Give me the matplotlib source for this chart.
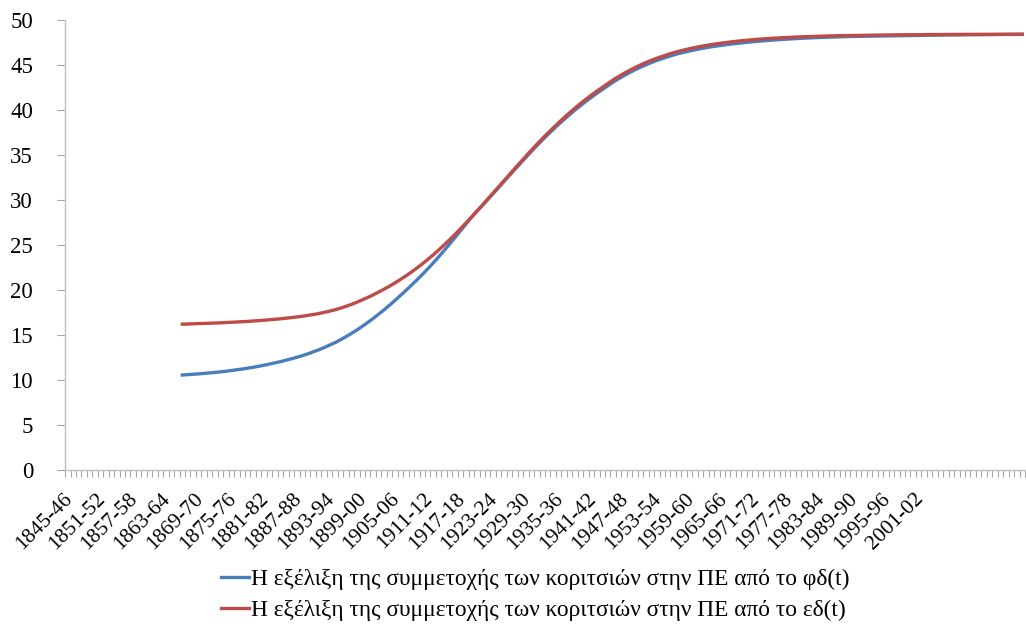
import numpy as np
import matplotlib
matplotlib.use("Agg")
import matplotlib.pyplot as plt
from matplotlib.transforms import ScaledTranslation

plt.rcParams['font.family'] = ['Liberation Serif', 'DejaVu Serif']

# school years 1845-46 ... 2020-21 (one category per year)
first_year = 1845
n_years = 176
last_labelled = 2001   # Excel shows labels every 6 years up to 2001-02
first_point = 21       # series start at 1866-67

# participation of girls (%)
phi_d = [10.55, 10.59, 10.63, 10.68, 10.73, 10.78, 10.84, 10.90, 10.97, 11.05,
         11.13, 11.22, 11.31, 11.41, 11.52, 11.64, 11.77, 11.90, 12.04, 12.19,
         12.35, 12.52, 12.70, 12.90, 13.12, 13.35, 13.60, 13.87, 14.15, 14.47,
         14.81, 15.17, 15.55, 15.96, 16.39, 16.84, 17.31, 17.80, 18.31, 18.84,
         19.39, 19.95, 20.52, 21.11, 21.72, 22.35, 23.00, 23.68, 24.38, 25.10,
         25.83, 26.57, 27.31, 28.05, 28.74, 29.38, 30.04, 30.71, 31.39, 32.06,
         32.74, 33.41, 34.08, 34.74, 35.39, 36.03, 36.65, 37.25, 37.83, 38.40,
         38.95, 39.48, 39.99, 40.48, 40.96, 41.41, 41.85, 42.27, 42.68, 43.10,
         43.47, 43.82, 44.15, 44.46, 44.75, 45.02, 45.27, 45.50, 45.71, 45.91,
         46.10, 46.27, 46.42, 46.56, 46.69, 46.81, 46.92, 47.02, 47.11, 47.20,
         47.28, 47.35, 47.42, 47.49, 47.55, 47.61, 47.66, 47.71, 47.75, 47.80,
         47.84, 47.88, 47.91, 47.95, 47.98, 48.01, 48.03, 48.06, 48.08, 48.10,
         48.12, 48.14, 48.15, 48.17, 48.18, 48.19, 48.21, 48.22, 48.23, 48.24,
         48.25, 48.26, 48.27, 48.28, 48.28, 48.29, 48.30, 48.31, 48.31, 48.32,
         48.33, 48.33, 48.34, 48.35, 48.35, 48.36, 48.36, 48.37, 48.37, 48.38,
         48.38, 48.39, 48.39, 48.40, 48.40]

epsilon_d = [16.20, 16.22, 16.24, 16.26, 16.28, 16.30, 16.32, 16.35, 16.38, 16.41,
             16.44, 16.47, 16.51, 16.55, 16.59, 16.64, 16.69, 16.74, 16.80, 16.86,
             16.93, 17.00, 17.08, 17.17, 17.27, 17.38, 17.51, 17.65, 17.80, 17.98,
             18.18, 18.40, 18.64, 18.90, 19.17, 19.46, 19.77, 20.09, 20.43, 20.79,
             21.17, 21.57, 21.99, 22.43, 22.90, 23.39, 23.90, 24.44, 25.00, 25.58,
             26.18, 26.80, 27.44, 28.09, 28.75, 29.42, 30.10, 30.78, 31.47, 32.15,
             32.84, 33.52, 34.20, 34.87, 35.53, 36.18, 36.81, 37.42, 38.01, 38.59,
             39.15, 39.69, 40.21, 40.71, 41.19, 41.65, 42.09, 42.51, 42.93, 43.35,
             43.72, 44.07, 44.40, 44.71, 45.00, 45.27, 45.52, 45.75, 45.96, 46.16,
             46.35, 46.52, 46.67, 46.81, 46.94, 47.06, 47.17, 47.27, 47.36, 47.44,
             47.52, 47.59, 47.66, 47.72, 47.78, 47.83, 47.88, 47.92, 47.96, 48.00,
             48.03, 48.06, 48.09, 48.12, 48.14, 48.16, 48.18, 48.20, 48.22, 48.23,
             48.25, 48.26, 48.27, 48.28, 48.29, 48.30, 48.31, 48.32, 48.33, 48.34,
             48.34, 48.35, 48.35, 48.36, 48.36, 48.37, 48.37, 48.38, 48.38, 48.38,
             48.39, 48.39, 48.39, 48.40, 48.40, 48.40, 48.40, 48.41, 48.41, 48.41,
             48.41, 48.41, 48.42, 48.42, 48.42]

label_phi = "Η εξέλιξη της συμμετοχής των κοριτσιών στην ΠΕ από το φδ(t)"
label_eps = "Η εξέλιξη της συμμετοχής των κοριτσιών στην ΠΕ από το εδ(t)"

years = [first_year + i for i in range(n_years)]
periods = ["%d-%02d" % (y, (y + 1) % 100) for y in years]

fig = plt.figure(figsize=(10.26, 6.24), dpi=100)
ax = fig.add_axes([0.0634, 0.2468, 0.9356, 0.7212])

x = np.arange(first_point, first_point + len(phi_d))
ax.plot(x, phi_d, color='#4A7EBB', lw=2.4, label=label_phi)
ax.plot(x, epsilon_d, color='#BE4B48', lw=2.4, label=label_eps)

ax.set_xlim(-0.5, n_years - 0.5)
ax.set_ylim(0, 50)
ax.set_yticks(range(0, 51, 5))

# category boundaries carry the tick marks, labels sit at centres
ax.set_xticks(np.arange(n_years + 1) - 0.5)
ax.set_xticklabels([])
lab_idx = [i for i in range(0, n_years, 6) if years[i] <= last_labelled]
ax.set_xticks(lab_idx, minor=True)
ax.tick_params(axis='x', which='major', length=5, color='#A6A6A6', width=0.8)
ax.tick_params(axis='x', which='minor', length=0, pad=14)
ax.tick_params(axis='y', length=6, color='#A6A6A6', width=0.8, labelsize=16.5, pad=17)
ax.set_xticklabels([periods[i] for i in lab_idx], minor=True, rotation=45,
                   ha='right', va='top', rotation_mode='anchor', fontsize=15.5)
shift = ScaledTranslation(-5 / 100, 0, fig.dpi_scale_trans)
for lab in ax.get_xticklabels(minor=True):
    lab.set_transform(lab.get_transform() + shift)

for s in ['top', 'right']:
    ax.spines[s].set_visible(False)
for s in ['left', 'bottom']:
    ax.spines[s].set_color('#BFBFBF')
    ax.spines[s].set_linewidth(1.0)

fig.legend(loc='lower center', bbox_to_anchor=(0.522, -0.029), frameon=False,
           fontsize=16.8, handlelength=1.2, handletextpad=0.1, labelspacing=0.43)

fig.savefig('out.png', dpi=100)
